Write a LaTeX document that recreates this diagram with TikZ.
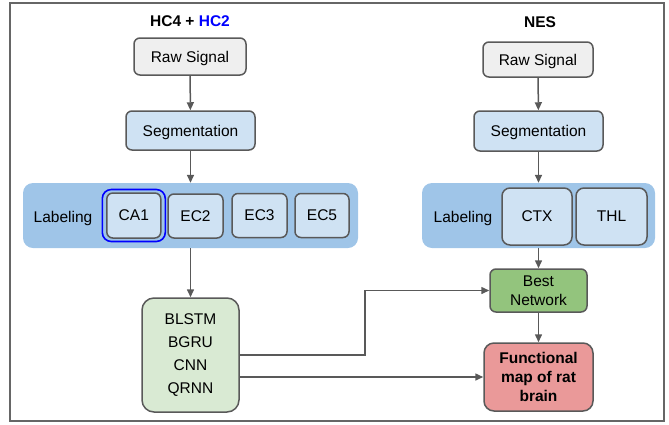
\documentclass[tikz,border=0pt]{standalone}
\usepackage{fontspec}
\setmainfont{Liberation Sans}
\usetikzlibrary{arrows.meta}
\definecolor{bordc}{HTML}{595959}
\definecolor{framec}{HTML}{666666}
\definecolor{rawc}{HTML}{EFEFEF}
\definecolor{boxc}{HTML}{CFE2F3}
\definecolor{bandc}{HTML}{9FC5E8}
\definecolor{netc}{HTML}{D9EAD3}
\definecolor{bestc}{HTML}{93C47D}
\definecolor{funcc}{HTML}{EA9999}
\definecolor{hcblue}{HTML}{0000FF}
\tikzset{
  every node/.style={font=\fontsize{15.5}{19}\selectfont, inner sep=0pt, align=center},
  boxbase/.style={draw=bordc, line width=1.5pt, rounded corners=6pt},
  rawbox/.style={boxbase, fill=rawc, text depth=0pt},
  bluebox/.style={boxbase, fill=boxc, text depth=0pt},
  band/.style={fill=bandc, rounded corners=10pt},
  conn/.style={draw=bordc, line width=1.5pt, -{Triangle[length=8pt,width=7pt]}},
  title/.style={font=\fontsize{15.5}{19}\selectfont\bfseries},
}
\begin{document}
\begin{tikzpicture}[x=1pt,y=-1pt]
\useasboundingbox (0,0) rectangle (669,424);
\draw[framec, line width=1.5pt] (10,3) rectangle (664,421);

% left column
\node[title] (t1) at (190,21) {HC4 + \textcolor{hcblue}{HC2}};
\node[rawbox, minimum width=112pt, minimum height=37pt] (raw1) at (190,56.5) {Raw Signal};
\node[bluebox, minimum width=129pt, minimum height=39pt] (seg1) at (190.5,130.5) {Segmentation};
\node[band, minimum width=335pt, minimum height=65pt] (band1) at (190.5,215.5) {};
\node[text depth=0pt] (lab1) at (63,217) {Labeling};
\node[draw=hcblue, line width=1.6pt, rounded corners=9pt, minimum width=63pt, minimum height=52pt] (ca1b) at (133.8,215.5) {};
\node[bluebox, minimum width=54pt, minimum height=45pt] (ca1) at (133.8,215.5) {CA1};
\node[bluebox, minimum width=55pt, minimum height=44pt] (ec2) at (195.5,216) {EC2};
\node[bluebox, minimum width=55pt, minimum height=44pt] (ec3) at (259.5,215.5) {EC3};
\node[bluebox, minimum width=54pt, minimum height=44pt] (ec5) at (322,215.5) {EC5};
\node[boxbase, fill=netc, rounded corners=12pt, minimum width=97pt, minimum height=114pt,
      font=\fontsize{15.5}{22.7}\selectfont] (nets) at (190.5,355) {BLSTM\\BGRU\\CNN\\QRNN};

% right column
\node[title] (t2) at (540,22) {NES};
\node[rawbox, minimum width=110pt, minimum height=35pt] (raw2) at (538,59.5) {Raw Signal};
\node[bluebox, minimum width=129pt, minimum height=40pt] (seg2) at (538.5,131) {Segmentation};
\node[band, minimum width=233pt, minimum height=65pt] (band2) at (538.5,215.5) {};
\node[text depth=0pt] (lab2) at (463,217) {Labeling};
\node[bluebox, rounded corners=8pt, minimum width=70pt, minimum height=57pt] (ctx) at (537,216.5) {CTX};
\node[bluebox, rounded corners=8pt, minimum width=71pt, minimum height=57pt] (thl) at (611.5,216.5) {THL};
\node[boxbase, fill=bestc, minimum width=97pt, minimum height=43pt] (best) at (538.5,290.5) {Best\\Network};
\node[boxbase, fill=funcc, rounded corners=10pt, minimum width=109pt, minimum height=68pt,
      font=\fontsize{15.5}{19}\selectfont\bfseries] (func) at (538.5,377) {Functional\\map of rat\\brain};

% connectors
\draw[conn] (raw1) -- (seg1);
\draw[conn] (seg1) -- (band1.north);
\draw[conn] (band1.south) -- (nets);
\draw[conn] (raw2) -- (seg2);
\draw[conn] (seg2.south) -- (seg2.south |- band2.north);
\draw[conn] (best.north |- band2.south) -- (best);
\draw[conn] (best) -- (func);
\coordinate (bend) at (365,355);
\draw[conn] (nets.east) -- (bend) |- (best.west);
\draw[conn] (nets.east |- func.west) -- (func.west);
\end{tikzpicture}
\end{document}
